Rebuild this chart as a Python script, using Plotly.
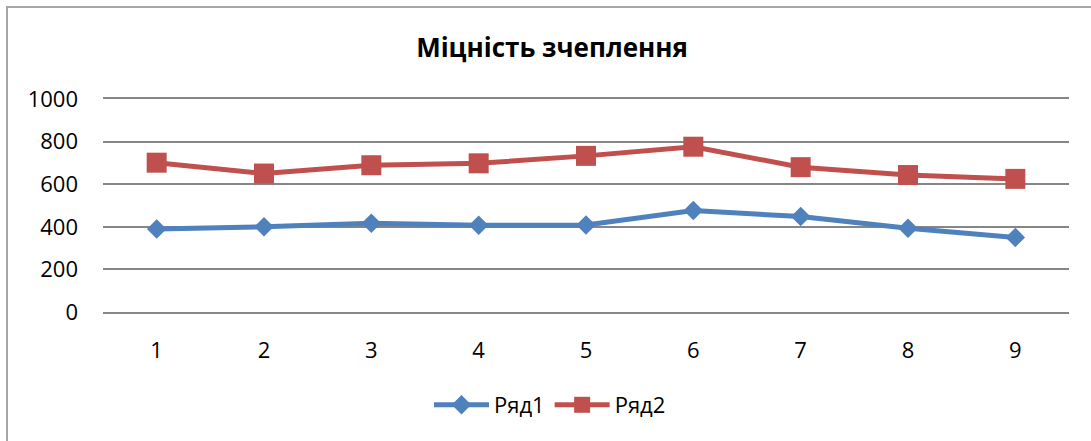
import plotly.graph_objects as go

# Adhesion strength by sample number
samples = [1, 2, 3, 4, 5, 6, 7, 8, 9]
ryad1 = [390, 400, 417, 407, 408, 476, 448, 393, 350]
ryad2 = [701, 650, 689, 698, 733, 776, 680, 643, 625]
y_ticks = [0, 200, 400, 600, 800, 1000]

W, H = 1091, 441
L, R, T, B = 103, 22, 99, 129

FONT = "Open Sans"
GRID = "#868686"

fig = go.Figure()
fig.add_trace(go.Scatter(
    x=samples, y=ryad1, name="Ряд1", mode="lines+markers",
    line=dict(color="#4F81BD", width=5),
    marker=dict(symbol="diamond", size=15, color="#4F81BD"),
))
fig.add_trace(go.Scatter(
    x=samples, y=ryad2, name="Ряд2", mode="lines+markers",
    line=dict(color="#C0504D", width=5),
    marker=dict(symbol="square", size=20, color="#C0504D"),
))

plot_w = W - L - R
plot_h = H - T - B

def px_to_paper_x(px):
    return (px - L) / plot_w

def px_to_paper_y(py):
    return (H - B - py) / plot_h

fig.update_layout(
    width=W, height=H,
    margin=dict(l=L, r=R, t=T, b=B),
    paper_bgcolor="white", plot_bgcolor="white",
    font=dict(family=FONT, size=22, color="#000000"),
    title=dict(
        text="<b>Міцність зчеплення</b>",
        x=552 / W, xanchor="center",
        y=1 - 48 / H, yanchor="middle",
        font=dict(family=FONT, size=26, color="#000000"),
    ),
    # horizontal axis lines at top and bottom act as the 0 and 1000 grid lines
    xaxis=dict(
        range=[0.5, 9.5], tickmode="array", tickvals=samples,
        ticktext=[str(s) for s in samples],
        showgrid=False, zeroline=False,
        showline=True, mirror=True, linecolor=GRID, linewidth=1.5,
        ticks="", ticklabelstandoff=18,
    ),
    yaxis=dict(
        range=[0, 1000], tickmode="array", tickvals=y_ticks,
        ticktext=[str(v) for v in y_ticks],
        showgrid=True, gridcolor=GRID, gridwidth=1.5,
        zeroline=False, showline=False, ticks="", ticklabelstandoff=24,
    ),
    showlegend=True,
    legend=dict(
        orientation="h",
        x=px_to_paper_x(550), xanchor="center",
        y=px_to_paper_y(405), yanchor="middle",
        font=dict(family=FONT, size=22),
        itemwidth=55,
        bgcolor="rgba(0,0,0,0)",
    ),
    shapes=[
        dict(
            type="rect", xref="paper", yref="paper",
            x0=px_to_paper_x(7), x1=px_to_paper_x(W + 20),
            y0=px_to_paper_y(H + 20), y1=px_to_paper_y(7),
            line=dict(color="#A6A6A6", width=2), fillcolor="rgba(0,0,0,0)",
            layer="below",
        )
    ],
)

fig.write_html("out.html")
